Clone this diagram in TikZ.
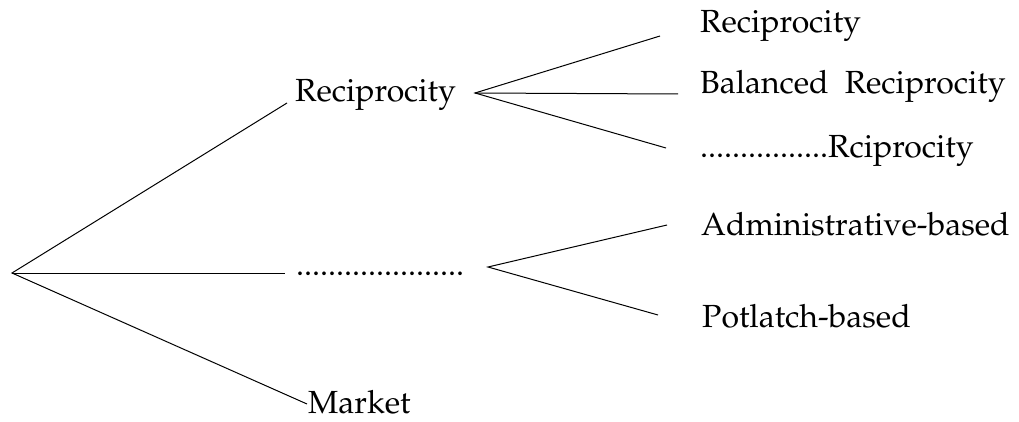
\documentclass[tikz,border=0pt]{standalone}
\usepackage[T1]{fontenc}
\usepackage{mathpazo}
\begin{document}
\begin{tikzpicture}[x=1pt,y=1pt,
  lbl/.style={anchor=base west,inner sep=0pt,font=\fontsize{32}{37}\selectfont},
  edge/.style={draw=black,line width=1pt}]
\useasboundingbox (0,0) rectangle (1019,421);
% labels (y = 421 - pixel y)
\node[lbl] (rec) at (295,319) {Reciprocity};
\node[lbl] (dots) at (296,146) {.....................};
\node[lbl] (mkt) at (308,8) {Market};
\node[lbl] (r1) at (700,388) {Reciprocity};
\node[lbl] (r2) at (700,327) {Balanced\ \ Reciprocity};
\node[lbl] (r3) at (700,264) {................Rciprocity};
\node[lbl] (a1) at (701,186) {Administrative-based};
\node[lbl] (a2) at (702,94) {Potlatch-based};
% vertices and line ends
\coordinate (root) at (12,148);
\coordinate (rootA) at (287,318);
\coordinate (rootB) at (285,148);
\coordinate (rootC) at (307,17);
\coordinate (rv) at (475,328);
\coordinate (rvA) at (660,385);
\coordinate (rvB) at (678,327);
\coordinate (rvC) at (666,273);
\coordinate (dv) at (488,154);
\coordinate (dvA) at (667,196);
\coordinate (dvB) at (658,106);
\draw[edge] (rootA) -- (root) -- (rootC);
\draw[edge] (root) -- (rootB);
\draw[edge] (rvA) -- (rv) -- (rvC);
\draw[edge] (rv) -- (rvB);
\draw[edge] (dvA) -- (dv) -- (dvB);
\end{tikzpicture}
\end{document}
